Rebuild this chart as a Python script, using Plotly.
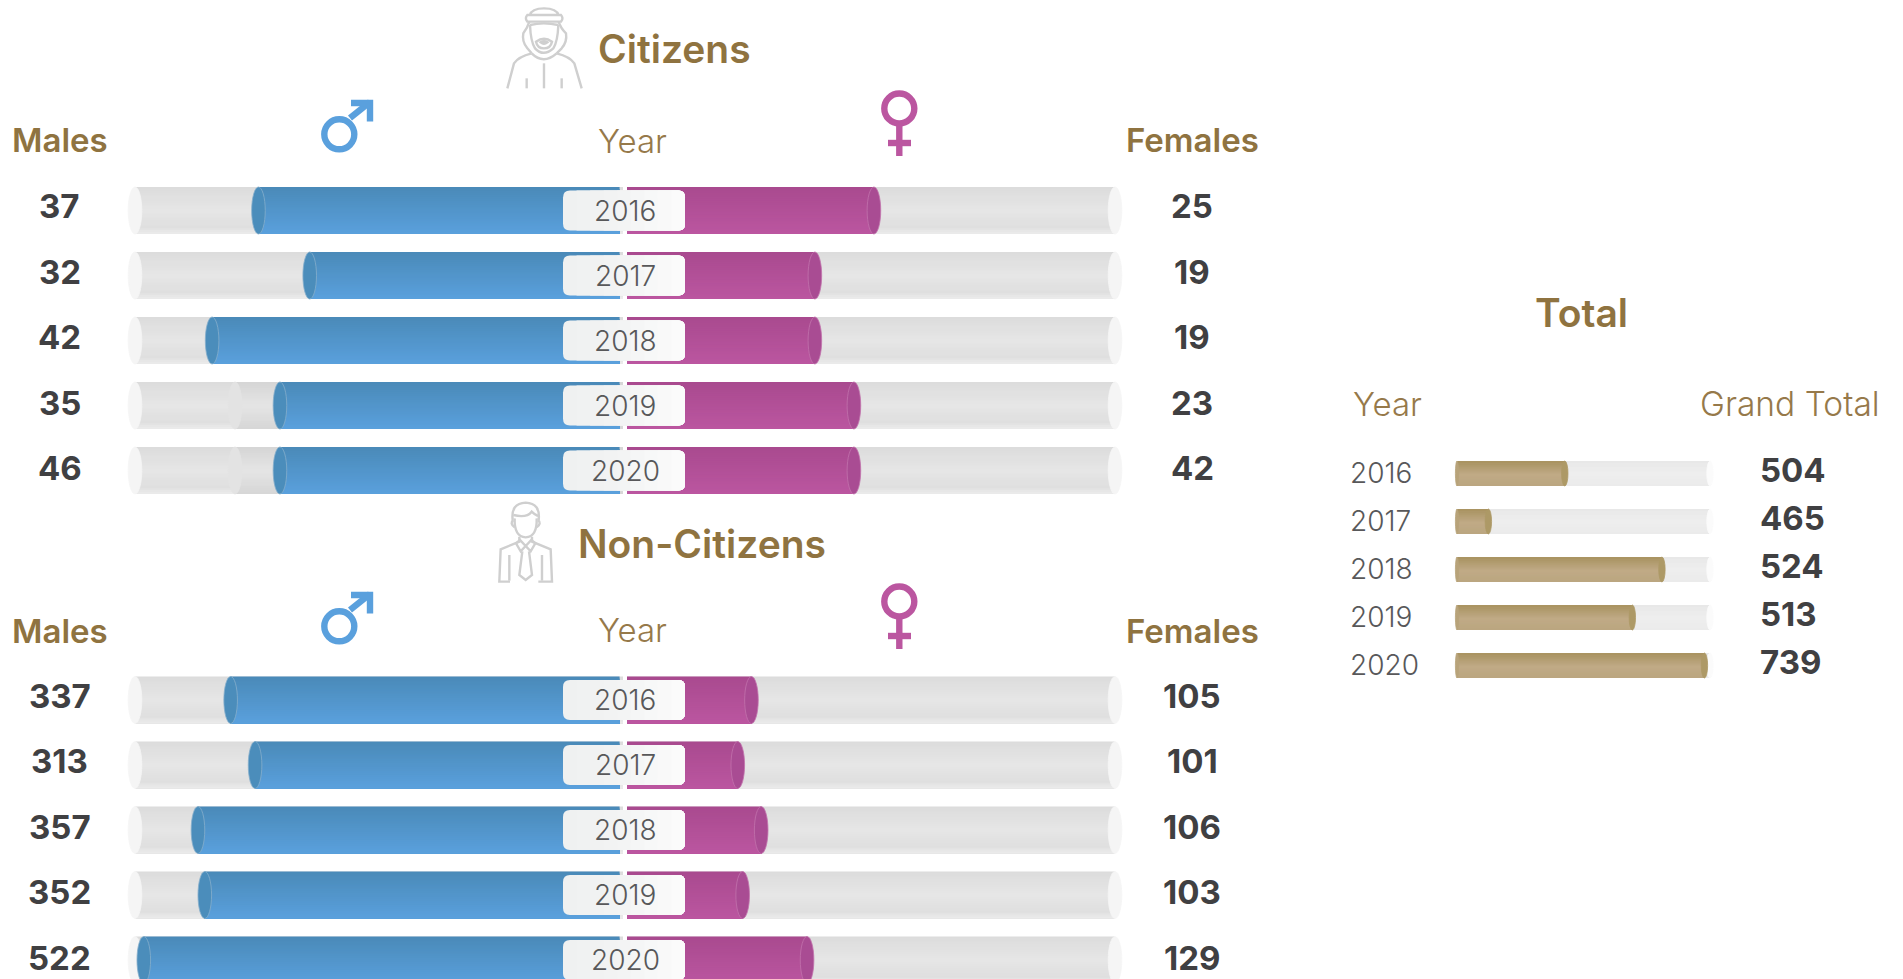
import re
import plotly.graph_objects as go

W, H = 1903, 979

years = [2016, 2017, 2018, 2019, 2020]
citizens_male_labels = ["37", "32", "42", "35", "46"]
citizens_female_labels = ["25", "19", "19", "23", "42"]
noncit_male_labels = ["337", "313", "357", "352", "522"]
noncit_female_labels = ["105", "101", "106", "103", "129"]
total_labels = ["504", "465", "524", "513", "739"]

# bar fill, in percent of each track
citizens_male_pct = [74.7, 64.2, 84.2, 70.3, 70.3]
citizens_male_ghost = [None, None, None, 79.5, 79.5]
citizens_female_pct = [50.6, 38.5, 38.5, 46.5, 46.5]
noncit_male_pct = [80.4, 75.4, 87.1, 85.7, 98.2]
noncit_female_pct = [25.5, 22.7, 27.5, 23.7, 36.9]
total_pct = [42.6, 12.4, 81.0, 69.3, 97.8]
track_pct = [100, 100, 100, 100, 100]

FONT = "Inter"
BROWN = "#8f7340"
DARK = "#404042"
YEARTXT = "#58585a"
BLUE = [(0, "#4a8ab8"), (1, "#5aa0dd")]
MAGENTA = [(0, "#a94a8f"), (1, "#bb56a0")]
GRAY = [(0, "#dcdcdc"), (.5, "#e6e6e6"), (.85, "#dfdfdf"), (1, "#ececec")]
GHOST = [(0, "#d5d5d5"), (.5, "#e5e5e5"), (1, "#d6d6d6")]
TAN = [(0, "#a8925f"), (.55, "#c0aa86"), (1, "#bba67f")]
LTRACK = [(0, "#e8e8e8"), (.5, "#eeeeee"), (1, "#ebebeb")]


def mix(stops, t):
    for (a, ca), (b, cb) in zip(stops, stops[1:]):
        if t <= b:
            f = (t - a) / (b - a)
            ra = [int(ca[i:i + 2], 16) for i in (1, 3, 5)]
            rb = [int(cb[i:i + 2], 16) for i in (1, 3, 5)]
            return "#%02x%02x%02x" % tuple(round(p + (q - p) * f) for p, q in zip(ra, rb))
    return stops[-1][1]


fig = go.Figure()
shapes, notes = [], []


def px(x):
    return x / W


def py(y):
    return 1 - y / H


def strips(xa, ya, vals, stops, w, n=24, base=None):
    # painted top to bottom, each strip reaching the bar's lower edge, so the gradient has no seams
    step = w / n
    for k in range(n):
        fig.add_bar(x=vals, y=years, orientation="h", xaxis=xa, yaxis=ya,
                    width=w - k * step, offset=-w / 2 + k * step, base=base,
                    marker=dict(color=mix(stops, (k + .5) / n), line=dict(width=0)),
                    hoverinfo="skip", showlegend=False)


def ellipse(xa, ya, p, y, dx, hy, fill, line=None):
    shapes.append(dict(type="circle", xref=xa, yref=ya, x0=p - dx, x1=p + dx, y0=y - hy, y1=y + hy,
                       fillcolor=fill, line=dict(color=line or fill, width=.8), layer="above"))


def text(s, x, y, size, color=BROWN, weight=400, anchor="center", yref="paper", yshift=0):
    notes.append(dict(text=s, x=px(x), y=y, xref="paper", yref=yref, xanchor=anchor, yanchor="middle",
                      yshift=yshift, showarrow=False,
                      font=dict(family=FONT, size=size, color=color, weight=weight)))


def chip(ya, y):
    x0, x1 = 563, 685
    ry, hy, r = 7 / 65, 20 / 65, 7
    base = (f"M {px(x0+r)},{y-hy} L {px(x1-r)},{y-hy} Q {px(x1)},{y-hy} {px(x1)},{y-hy+ry} "
            f"L {px(x1)},{y+hy-ry} Q {px(x1)},{y+hy} {px(x1-r)},{y+hy} L {px(x0+r)},{y+hy} "
            f"Q {px(x0)},{y+hy} {px(x0)},{y+hy-ry} L {px(x0)},{y-hy+ry} Q {px(x0)},{y-hy} {px(x0+r)},{y-hy} Z")
    shapes.append(dict(type="path", xref="paper", yref=ya, path=base, fillcolor="#eff1f1",
                       line=dict(width=0), layer="above"))
    ramp = [(0, "#eff1f1"), (.45, "#f3f4f4"), (1, "#fdfdfd")]
    n = 9
    for k in range(1, n):
        xs = x0 + (x1 - x0) * k / n
        path = (f"M {px(xs)},{y-hy} L {px(x1-r)},{y-hy} Q {px(x1)},{y-hy} {px(x1)},{y-hy+ry} "
                f"L {px(x1)},{y+hy-ry} Q {px(x1)},{y+hy} {px(x1-r)},{y+hy} L {px(xs)},{y+hy} Z")
        shapes.append(dict(type="path", xref="paper", yref=ya, path=path, fillcolor=mix(ramp, k / n),
                           line=dict(width=0), layer="above"))


def section(xm, xf, ya, male_pct, female_pct, male_lab, female_lab, ghost=None):
    w = 47 / 65
    hy = w / 2
    dx = 6.8 / 4.88
    strips(xm, ya, track_pct, GRAY, w)
    strips(xf, ya, track_pct, GRAY, w)
    for y in years:
        ellipse(xm, ya, 100, y, dx, hy, "#f5f5f5")
        ellipse(xf, ya, 100, y, dx, hy, "#f5f5f5")
    if ghost:
        strips(xm, ya, ghost, GHOST, w)
        for y, g in zip(years, ghost):
            if g is not None:
                ellipse(xm, ya, g, y, dx, hy, "#e3e3e3")
    strips(xm, ya, [v - .7 for v in male_pct], BLUE, w, base=[.7] * 5)
    strips(xf, ya, female_pct, MAGENTA, w)
    for i, (y, m, f, lm, lf) in enumerate(zip(years, male_pct, female_pct, male_lab, female_lab)):
        ellipse(xm, ya, m, y, dx, hy, "#4b8dbb", "#86aecb")
        ellipse(xf, ya, f, y, dx, hy, "#a94c93", "#c272ac")
        chip(ya, y)
        text(str(y), 625, y, 28, YEARTXT, 300, yref=ya)
        text(lm, 59.5, y, 33, DARK, 700, yref=ya, yshift=4.5 - .5 * i)
        text(lf, 1192, y, 33, DARK, 700, yref=ya, yshift=4.5 - .5 * i)


section("x", "x2", "y", citizens_male_pct, citizens_female_pct,
        citizens_male_labels, citizens_female_labels, citizens_male_ghost)
section("x3", "x4", "y2", noncit_male_pct, noncit_female_pct,
        noncit_male_labels, noncit_female_labels)

# total panel
tw = 25 / 48
strips("x5", "y3", track_pct, LTRACK, tw, n=12)
tdx = 3.2 / 2.53
for y, p in zip(years, total_pct):
    ellipse("x5", "y3", 100, y, tdx, tw / 2, "#fbfbfb")
strips("x5", "y3", total_pct, TAN, tw, n=12)
for y, p, lab in zip(years, total_pct, total_labels):
    ellipse("x5", "y3", 0, y, 1.6 / 2.53, tw / 2, "#b8a37a")
    ellipse("x5", "y3", p, y, tdx, tw / 2, "#ad9966")
    text(str(y), 1348, y, 28, YEARTXT, 300, anchor="left", yref="y3", yshift=1)
    text(lab, 1757.5, y, 33, DARK, 700, anchor="left", yref="y3", yshift=3.5)

# headings
for s, cx, cy, size, weight in [
    ("Citizens", 674, 48, 39, 600), ("Non-Citizens", 702, 543, 39, 600),
    ("Total", 1581, 313, 39, 600),
    ("Males", 60, 140, 33, 600), ("Females", 1192, 140, 33, 600),
    ("Males", 60, 631, 33, 600), ("Females", 1192, 631, 33, 600),
    ("Year", 632, 141, 33, 300), ("Year", 632, 630, 33, 300),
    ("Year", 1387, 404, 33, 300), ("Grand Total", 1790, 404, 33.5, 300),
]:
    text(s, cx, py(cy), size, BROWN if weight > 300 else "#96794a", weight)


def pathify(d, ox=0, oy=0, sx=1.0, sy=1.0):
    toks = re.findall(r"[A-Za-z]|-?\d+\.?\d*", d)
    out, nums = [], []
    for t in toks:
        if t.isalpha():
            out.append(t)
        else:
            nums.append(float(t))
            if len(nums) == 2:
                out.append(f"{px(ox + nums[0] * sx):.5f},{py(oy + nums[1] * sy):.5f}")
                nums = []
    return " ".join(out)


def stroke(d, color, width, **kw):
    shapes.append(dict(type="path", xref="paper", yref="paper", path=pathify(d, **kw),
                       line=dict(color=color, width=width), layer="above"))


def ring(cx, cy, r, color, width):
    shapes.append(dict(type="circle", xref="paper", yref="paper", x0=px(cx - r), x1=px(cx + r),
                       y0=py(cy + r), y1=py(cy - r), line=dict(color=color, width=width), layer="above"))


MSYM, FSYM = "#5aa0dd", "#bb56a0"
for dy in (0, 492):
    ring(339.3, 134.3 + dy, 15, MSYM, 6.4)
    stroke(f"M 350 {118+dy} L 370 {102+dy}", MSYM, 6.4)
    stroke(f"M 351 {103+dy} L 370 {103+dy} L 370 {121.5+dy}", MSYM, 6.4)
for dy in (0, 493):
    ring(899.3, 108.5 + dy, 15, FSYM, 6.4)
    stroke(f"M 899.3 {124+dy} L 899.3 {156+dy}", FSYM, 6.4)
    stroke(f"M 888 {143+dy} L 911 {143+dy}", FSYM, 6.4)

ICON = "#cfcfcf"
cit = dict(ox=490, oy=0, sx=1 / 3, sy=1 / 3)
for d in [
    "M 120 45 Q 125 25 162 25 Q 200 25 205 45",
    "M 112 45 L 213 45 Q 222 55 213 65 L 112 65 Q 103 55 112 45 Z",
    "M 118 65 Q 112 85 100 100 Q 95 125 112 145 L 125 160",
    "M 206 65 Q 212 85 228 100 Q 232 125 215 145 L 200 160",
    "M 120 75 Q 160 65 205 75",
    "M 120 75 Q 122 125 135 145 Q 160 172 190 145 Q 203 125 205 75",
    "M 138 125 Q 162 108 186 125 Q 182 145 162 145 Q 142 145 138 125 Z",
    "M 152 127 Q 162 120 172 127 Q 162 135 152 127 Z",
    "M 125 160 Q 160 195 200 160",
    "M 125 160 Q 85 170 72 190 L 52 265",
    "M 200 160 Q 240 170 253 190 L 275 265",
    "M 162 190 L 162 265", "M 110 235 L 110 265", "M 215 235 L 215 265",
]:
    stroke(d, ICON, 2.4, **cit)

non = dict(ox=470, oy=490, sx=1 / 3, sy=1 / 3)
for d in [
    "M 128 90 Q 122 40 167 38 Q 212 40 206 90",
    "M 130 75 Q 170 85 185 65 Q 195 75 204 78",
    "M 134 85 Q 132 140 167 142 Q 202 140 200 85",
    "M 130 90 Q 118 100 134 112", "M 204 90 Q 216 100 200 112",
    "M 148 140 L 148 155 L 92 178 L 88 275 L 120 275",
    "M 186 140 L 186 155 L 242 178 L 246 275 L 205 275",
    "M 138 160 L 150 150 L 167 168 L 184 150 L 196 160 L 182 184 L 167 168 L 152 184 Z",
    "M 157 184 L 148 255 L 167 270 L 186 255 L 177 184",
    "M 118 195 L 118 272", "M 216 195 L 216 272",
]:
    stroke(d, ICON, 2.4, **non)

hidden = dict(visible=False, fixedrange=True)
left, right = 623, 627
sc = 4.88
fig.update_layout(
    width=W, height=H, margin=dict(l=0, r=0, t=0, b=0), autosize=False,
    paper_bgcolor="white", plot_bgcolor="rgba(0,0,0,0)", barmode="overlay",
    showlegend=False, shapes=shapes, annotations=notes,
    xaxis=dict(domain=[px(left - 103 * sc), px(left)], range=[103, 0], anchor="y", **hidden),
    xaxis2=dict(domain=[px(right), px(right + 103 * sc)], range=[0, 103], anchor="y", **hidden),
    xaxis3=dict(domain=[px(left - 103 * sc), px(left)], range=[103, 0], anchor="y2", **hidden),
    xaxis4=dict(domain=[px(right), px(right + 103 * sc)], range=[0, 103], anchor="y2", **hidden),
    xaxis5=dict(domain=[px(1457 - 2 * 2.53), px(1457 + 103 * 2.53)], range=[-2, 103], anchor="y3", **hidden),
    yaxis=dict(domain=[py(503), py(178)], range=[2020.5, 2015.5], anchor="x", **hidden),
    yaxis2=dict(domain=[0, py(667.5)], range=[2015.5 + (979 - 667.5) / 65, 2015.5], anchor="x3", **hidden),
    yaxis3=dict(domain=[py(689.5), py(449.5)], range=[2020.5, 2015.5], anchor="x5", **hidden),
)
fig.write_html("out.html", config=dict(displayModeBar=False),
               post_script="document.body.style.margin='0';document.body.style.overflow='hidden';")
